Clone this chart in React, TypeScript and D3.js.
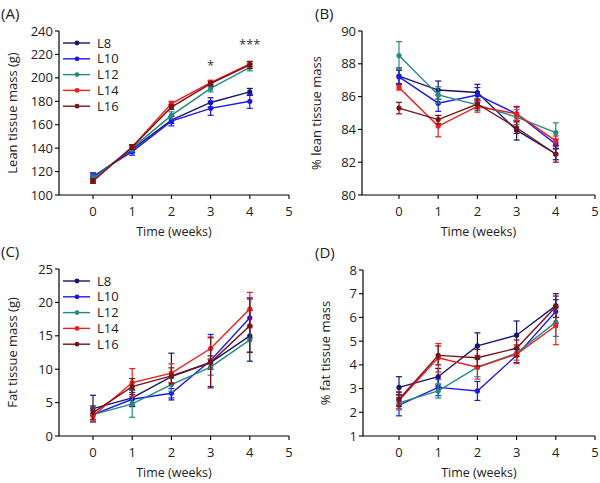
import React from "react";
import * as d3 from "d3";

const weeks = [0, 1, 2, 3, 4];
const seriesNames = ["L8", "L10", "L12", "L14", "L16"];
const seriesColors = ["#15156e", "#1a1aee", "#228a80", "#f01c1c", "#7a1216"];

// Panel A: lean tissue mass (g)
const leanMass = [
  [115, 139, 164, 179, 188],
  [116, 137, 163, 174, 180],
  [114, 140, 168, 191, 209],
  [112, 141, 178, 196, 212],
  [112, 141, 175, 195, 211],
];
const leanMassErr = [
  [3, 3, 3, 4, 3],
  [3, 3, 4, 6, 6],
  [3, 3, 3, 3, 3],
  [2, 2, 2, 2, 2],
  [2, 2, 2, 2, 3],
];
// Panel B: % lean tissue mass
const leanPct = [
  [87.25, 86.4, 86.25, 83.95, 82.5],
  [87.2, 85.6, 86.1, 84.95, 83.1],
  [88.5, 86.1, 85.5, 84.75, 83.8],
  [86.55, 84.2, 85.4, 84.95, 83.3],
  [85.3, 84.6, 85.55, 84.1, 82.5],
];
const leanPctErr = [
  [0.5, 0.55, 0.5, 0.6, 0.35],
  [0.4, 0.5, 0.45, 0.45, 0.3],
  [0.85, 0.5, 0.35, 0.45, 0.6],
  [0.15, 0.65, 0.35, 0.4, 0.3],
  [0.35, 0.25, 0.3, 0.35, 0.5],
];
// Panel C: fat tissue mass (g)
const fatMass = [
  [4.1, 5.7, 8.9, 11.0, 15.0],
  [3.2, 5.5, 6.4, 11.3, 17.7],
  [3.2, 4.8, 7.7, 10.3, 14.4],
  [3.0, 8.0, 9.4, 13.1, 19.0],
  [3.5, 7.4, 9.0, 11.0, 16.5],
];
const fatMassErr = [
  [2.0, 1.3, 3.5, 1.0, 3.8],
  [1.0, 1.0, 0.7, 3.9, 3.0],
  [1.0, 2.0, 1.0, 1.2, 1.8],
  [0.8, 2.1, 1.4, 1.6, 2.5],
  [1.0, 1.2, 1.2, 3.8, 4.0],
];
// Panel D: % fat tissue mass
const fatPct = [
  [3.05, 3.5, 4.8, 5.25, 6.5],
  [2.3, 3.05, 2.9, 4.4, 6.25],
  [2.4, 2.9, 3.9, 4.5, 5.8],
  [2.5, 4.3, 3.9, 4.45, 5.65],
  [2.55, 4.4, 4.3, 4.7, 6.45],
];
const fatPctErr = [
  [0.45, 0.35, 0.55, 0.6, 0.5],
  [0.45, 0.35, 0.4, 0.3, 0.5],
  [0.3, 0.3, 0.4, 0.3, 0.6],
  [0.35, 0.6, 0.5, 0.4, 0.8],
  [0.3, 0.4, 0.35, 0.35, 0.45],
];

const xTicks = [0, 1, 2, 3, 4, 5];
const leanMassTicks = [100, 120, 140, 160, 180, 200, 220, 240];
const leanPctTicks = [80, 82, 84, 86, 88, 90];
const fatMassTicks = [0, 5, 10, 15, 20, 25];
const fatPctTicks = [1, 2, 3, 4, 5, 6, 7, 8];

const FONT = "'Open Sans', 'Noto Sans', sans-serif";

type PanelProps = {
  label: string;
  labelX: number;
  left: number;
  zeroX: number;
  fiveX: number;
  top: number;
  bottom: number;
  yDomain: [number, number];
  yTicks: number[];
  yTitle: string;
  yTitleX: number;
  values: number[][];
  errors: number[][];
  legend: boolean;
  stars?: { x: number; text: string; value: number }[];
};

function Panel(p: PanelProps) {
  const unit = (p.fiveX - p.zeroX) / 5;
  const x = d3
    .scaleLinear()
    .domain([(p.left - p.zeroX) / unit, 5])
    .range([p.left, p.fiveX]);
  const y = d3.scaleLinear().domain(p.yDomain).range([p.bottom, p.top]);
  const line = d3
    .line<number>()
    .x((_, i) => x(weeks[i]))
    .y((d) => y(d));
  const labelY = p.top - 12;
  return (
    <g fontFamily={FONT}>
      <text x={p.labelX} y={labelY} fontSize={15} fill="#222">
        {p.label}
      </text>
      {/* axes */}
      <line x1={p.left} x2={p.left} y1={p.top} y2={p.bottom} stroke="#000" strokeWidth={1.2} />
      <line x1={p.left} x2={p.fiveX} y1={p.bottom} y2={p.bottom} stroke="#000" strokeWidth={1.2} />
      {p.yTicks.map((t) => (
        <g key={"y" + t}>
          <line x1={p.left - 4} x2={p.left} y1={y(t)} y2={y(t)} stroke="#000" strokeWidth={1.1} />
          <text x={p.left - 6} y={y(t)} dy="0.35em" textAnchor="end" fontSize={13} fill="#222">
            {t}
          </text>
        </g>
      ))}
      {xTicks.map((t) => (
        <g key={"x" + t}>
          <line x1={x(t)} x2={x(t)} y1={p.bottom} y2={p.bottom + 4} stroke="#000" strokeWidth={1.1} />
          <text x={x(t)} y={p.bottom + 21} textAnchor="middle" fontSize={13} fill="#222">
            {t}
          </text>
        </g>
      ))}
      <text
        x={(p.left + p.fiveX) / 2}
        y={p.bottom + 41}
        textAnchor="middle"
        fontSize={12.5}
        fill="#222"
      >
        Time (weeks)
      </text>
      <text
        transform={`translate(${p.yTitleX},${(p.top + p.bottom) / 2}) rotate(-90)`}
        textAnchor="middle"
        fontSize={13}
        fill="#222"
      >
        {p.yTitle}
      </text>
      {/* series */}
      {p.values.map((vals, si) => (
        <g key={"s" + si} stroke={seriesColors[si]} fill={seriesColors[si]}>
          <path d={line(vals) || ""} fill="none" strokeWidth={1.4} />
          {vals.map((v, i) => {
            const e = p.errors[si][i];
            const cx = x(weeks[i]);
            return (
              <g key={i} strokeWidth={1.2}>
                <line x1={cx} x2={cx} y1={y(v - e)} y2={y(v + e)} />
                <line x1={cx - 3} x2={cx + 3} y1={y(v - e)} y2={y(v - e)} />
                <line x1={cx - 3} x2={cx + 3} y1={y(v + e)} y2={y(v + e)} />
                <circle cx={cx} cy={y(v)} r={2.6} stroke="none" />
              </g>
            );
          })}
        </g>
      ))}
      {p.legend &&
        seriesNames.map((n, i) => {
          const ly = p.top + 12 + i * 15.8;
          return (
            <g key={n}>
              <line x1={p.left + 4} x2={p.left + 31} y1={ly} y2={ly} stroke={seriesColors[i]} strokeWidth={1.4} />
              <circle cx={p.left + 18} cy={ly} r={2.4} fill={seriesColors[i]} />
              <text x={p.left + 38} y={ly} dy="0.36em" fontSize={13} fill="#222">
                {n}
              </text>
            </g>
          );
        })}
      {p.stars &&
        p.stars.map((s, i) => (
          <text key={i} x={x(s.x)} y={y(s.value)} textAnchor="middle" fontSize={13} fill="#333">
            {s.text}
          </text>
        ))}
    </g>
  );
}

export default function App() {
  return (
    <svg width={600} height={483} style={{ display: "block", position: "absolute", left: 0, top: 0 }}>
      <rect width={600} height={483} fill="#fff" />
      <Panel
        label="(A)"
        labelX={1}
        left={59}
        zeroX={93}
        fiveX={289}
        top={31}
        bottom={195}
        yDomain={[100, 240]}
        yTicks={leanMassTicks}
        yTitle="Lean tissue mass (g)"
        yTitleX={17}
        values={leanMass}
        errors={leanMassErr}
        legend={true}
        stars={[
          { x: 3, text: "*", value: 207 },
          { x: 4, text: "***", value: 225 },
        ]}
      />
      <Panel
        label="(B)"
        labelX={315}
        left={362}
        zeroX={399}
        fiveX={595}
        top={31}
        bottom={195}
        yDomain={[80, 90]}
        yTicks={leanPctTicks}
        yTitle="% lean tissue mass"
        yTitleX={321}
        values={leanPct}
        errors={leanPctErr}
        legend={false}
      />
      <Panel
        label="(C)"
        labelX={1}
        left={59}
        zeroX={93}
        fiveX={289}
        top={269}
        bottom={436}
        yDomain={[0, 25]}
        yTicks={fatMassTicks}
        yTitle="Fat tissue mass (g)"
        yTitleX={17}
        values={fatMass}
        errors={fatMassErr}
        legend={true}
      />
      <Panel
        label="(D)"
        labelX={315}
        left={363}
        zeroX={399}
        fiveX={595}
        top={270}
        bottom={436}
        yDomain={[1, 8]}
        yTicks={fatPctTicks}
        yTitle="% fat tissue mass"
        yTitleX={330}
        values={fatPct}
        errors={fatPctErr}
        legend={false}
      />
    </svg>
  );
}
